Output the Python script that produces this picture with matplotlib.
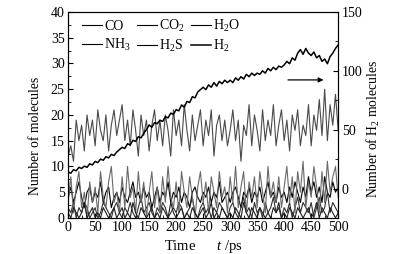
import numpy as np
import matplotlib
matplotlib.use('Agg')
import matplotlib.pyplot as plt
from matplotlib.ticker import MultipleLocator

plt.rcParams['font.family'] = ['Liberation Serif', 'DejaVu Serif']
plt.rcParams['mathtext.fontset'] = 'custom'
plt.rcParams['mathtext.rm'] = 'Liberation Serif'
plt.rcParams['mathtext.it'] = 'Liberation Serif:italic'

# time axis, ps (sampled every 5 ps)
t = np.arange(0, 505, 5)

# number of molecules (left axis)
h2o = [12, 14, 11, 19, 15, 18, 13, 20, 16, 19,
       14, 21, 17, 15, 20, 13, 18, 21, 16, 19,
       22, 15, 19, 14, 21, 17, 12, 20, 16, 19,
       13, 18, 21, 15, 19, 14, 20, 17, 12, 21,
       16, 19, 14, 22, 17, 13, 20, 15, 18, 21,
       14, 19, 16, 21, 12, 18, 20, 15, 19, 14,
       17, 21, 15, 19, 11, 18, 16, 22, 14, 20,
       17, 13, 21, 15, 19, 16, 22, 14, 18, 21,
       15, 19, 13, 20, 17, 21, 14, 18, 16, 22,
       14, 20, 17, 23, 16, 25, 15, 22, 18, 24,
       17]
co = [4, 6, 3, 5, 7, 4, 2, 5, 6, 3,
      5, 4, 7, 3, 5, 6, 2, 4, 5, 3,
      6, 4, 3, 5, 7, 4, 5, 3, 6, 4,
      5, 2, 4, 6, 3, 5, 4, 7, 3, 5,
      4, 6, 3, 5, 4, 2, 5, 6, 4, 3,
      5, 4, 6, 3, 5, 4, 7, 3, 4, 5,
      3, 5, 6, 4, 2, 5, 4, 6, 3, 5,
      4, 6, 3, 5, 7, 4, 5, 3, 6, 4,
      5, 3, 6, 4, 7, 5, 3, 6, 4, 8,
      5, 7, 4, 6, 3, 8, 5, 4, 7, 5,
      6]
co2 = [2, 1, 3, 0, 2, 1, 3, 2, 0, 1,
       2, 0, 1, 3, 2, 1, 0, 2, 3, 1,
       0, 2, 1, 3, 1, 0, 2, 4, 1, 2,
       3, 1, 0, 2, 1, 3, 2, 0, 1, 2,
       1, 3, 2, 0, 1, 2, 4, 1, 0, 2,
       3, 1, 2, 0, 2, 1, 3, 2, 1, 0,
       2, 3, 1, 0, 2, 4, 1, 2, 0, 3,
       1, 2, 0, 3, 1, 2, 4, 1, 2, 0,
       2, 1, 3, 0, 2, 4, 1, 3, 2, 1,
       3, 0, 2, 4, 1, 2, 5, 1, 3, 2,
       1]
nh3 = [3, 8, 1, 6, 9, 2, 5, 0, 7, 3,
       6, 1, 9, 4, 2, 7, 10, 3, 5, 1,
       8, 2, 10, 4, 6, 1, 9, 3, 7, 0,
       5, 9, 2, 6, 1, 8, 3, 10, 4, 2,
       7, 1, 9, 5, 2, 8, 4, 0, 6, 9,
       3, 7, 1, 8, 5, 2, 9, 4, 6, 1,
       8, 3, 10, 2, 6, 9, 1, 7, 4, 8,
       2, 9, 5, 1, 10, 4, 7, 3, 8, 2,
       6, 10, 3, 8, 1, 9, 5, 11, 2, 7,
       4, 10, 6, 1, 9, 3, 11, 5, 8, 10,
       4]
h2s = [1, 0, 2, 1, 0, 1, 3, 0, 1, 2,
       0, 1, 0, 2, 1, 0, 1, 2, 0, 1,
       2, 0, 1, 0, 3, 1, 0, 2, 1, 0,
       1, 2, 0, 1, 0, 2, 1, 0, 3, 1,
       0, 1, 2, 0, 1, 0, 2, 1, 0, 1,
       2, 0, 1, 3, 0, 1, 0, 2, 1, 0,
       1, 0, 2, 1, 0, 3, 1, 0, 2, 1,
       0, 2, 1, 0, 1, 0, 2, 1, 3, 0,
       1, 0, 2, 1, 0, 2, 1, 0, 1, 2,
       0, 1, 3, 0, 2, 1, 0, 2, 1, 0,
       1]

# number of H2 molecules (right axis)
h2 = [14, 13, 16, 15, 18, 17, 19, 18, 21, 20,
      23, 22, 25, 24, 27, 26, 29, 28, 31, 33,
      35, 34, 38, 37, 41, 40, 44, 43, 47, 50,
      54, 52, 56, 55, 58, 57, 61, 60, 64, 63,
      67, 66, 71, 69, 74, 73, 78, 77, 82, 84,
      86, 84, 88, 86, 90, 87, 91, 89, 92, 90,
      92, 90, 94, 92, 95, 93, 97, 95, 98, 96,
      98, 97, 100, 98, 102, 100, 103, 101, 104, 103,
      105, 108, 106, 111, 109, 115, 118, 114, 119, 115,
      113, 116, 111, 113, 108, 110, 106, 112, 115, 119,
      122]

fig = plt.figure(figsize=(3.96, 2.54), dpi=100)
ax = fig.add_axes([0.172, 0.142, 0.682, 0.811])

l_co, = ax.plot(t, co, color='black', lw=0.8, label='CO')
l_co2, = ax.plot(t, co2, color='#303030', lw=0.8, label='CO$_2$')
l_h2o, = ax.plot(t, h2o, color='#4a4a4a', lw=0.8, label='H$_2$O')
l_nh3, = ax.plot(t, nh3, color='#6a6a6a', lw=0.8, label='NH$_3$')
l_h2s, = ax.plot(t, h2s, color='#202020', lw=0.8, label='H$_2$S')

ax2 = ax.twinx()
l_h2, = ax2.plot(t, h2, color='black', lw=1.1, label='H$_2$')

ax.set_xlim(0, 500)
ax.set_ylim(0, 40)
ax2.set_ylim(-25, 150)
ax.xaxis.set_major_locator(MultipleLocator(50))
ax.xaxis.set_minor_locator(MultipleLocator(25))
ax.yaxis.set_major_locator(MultipleLocator(5))
ax.yaxis.set_minor_locator(MultipleLocator(2.5))
ax2.yaxis.set_major_locator(MultipleLocator(50))
ax2.yaxis.set_minor_locator(MultipleLocator(25))
ax2.set_yticks([0, 50, 100, 150])

for a in (ax, ax2):
    a.tick_params(which='both', direction='in', labelsize=10, pad=2.5)
    a.tick_params(which='major', length=3.5)
    a.tick_params(which='minor', length=2)

ax.set_xlabel('Time      $\\it{t}$ /ps', fontsize=10.5)
ax.xaxis.set_label_coords(0.5, -0.095)
ax.xaxis.label.set_va('top')

ax.set_ylabel('Number of molecules', fontsize=9.8)
ax.yaxis.set_label_coords(-0.122, 0.40)
ax.yaxis.label.set_va('center')
ax2.set_ylabel('Number of H$_2$ molecules', fontsize=9.8)
ax2.yaxis.set_label_coords(1.13, 0.43)
ax2.yaxis.label.set_va('center')

ax.annotate('', xy=(478, 26.8), xytext=(402, 26.8),
            arrowprops=dict(arrowstyle='-|>', color='black', lw=0.9,
                            mutation_scale=7))

# legend fills column-wise: rows CO, CO2, H2O / NH3, H2S, H2
handles = [l_co, l_nh3, l_co2, l_h2s, l_h2o, l_h2]
leg = ax.legend(handles=handles, ncol=3, loc='upper left', frameon=False,
                fontsize=10, handlelength=1.45, handletextpad=0.15,
                columnspacing=0.45, labelspacing=0.3, borderaxespad=0.1,
                bbox_to_anchor=(0.025, 1.005))
for h in leg.get_lines():
    h.set_color('black')

fig.savefig('out.png', dpi=100)
